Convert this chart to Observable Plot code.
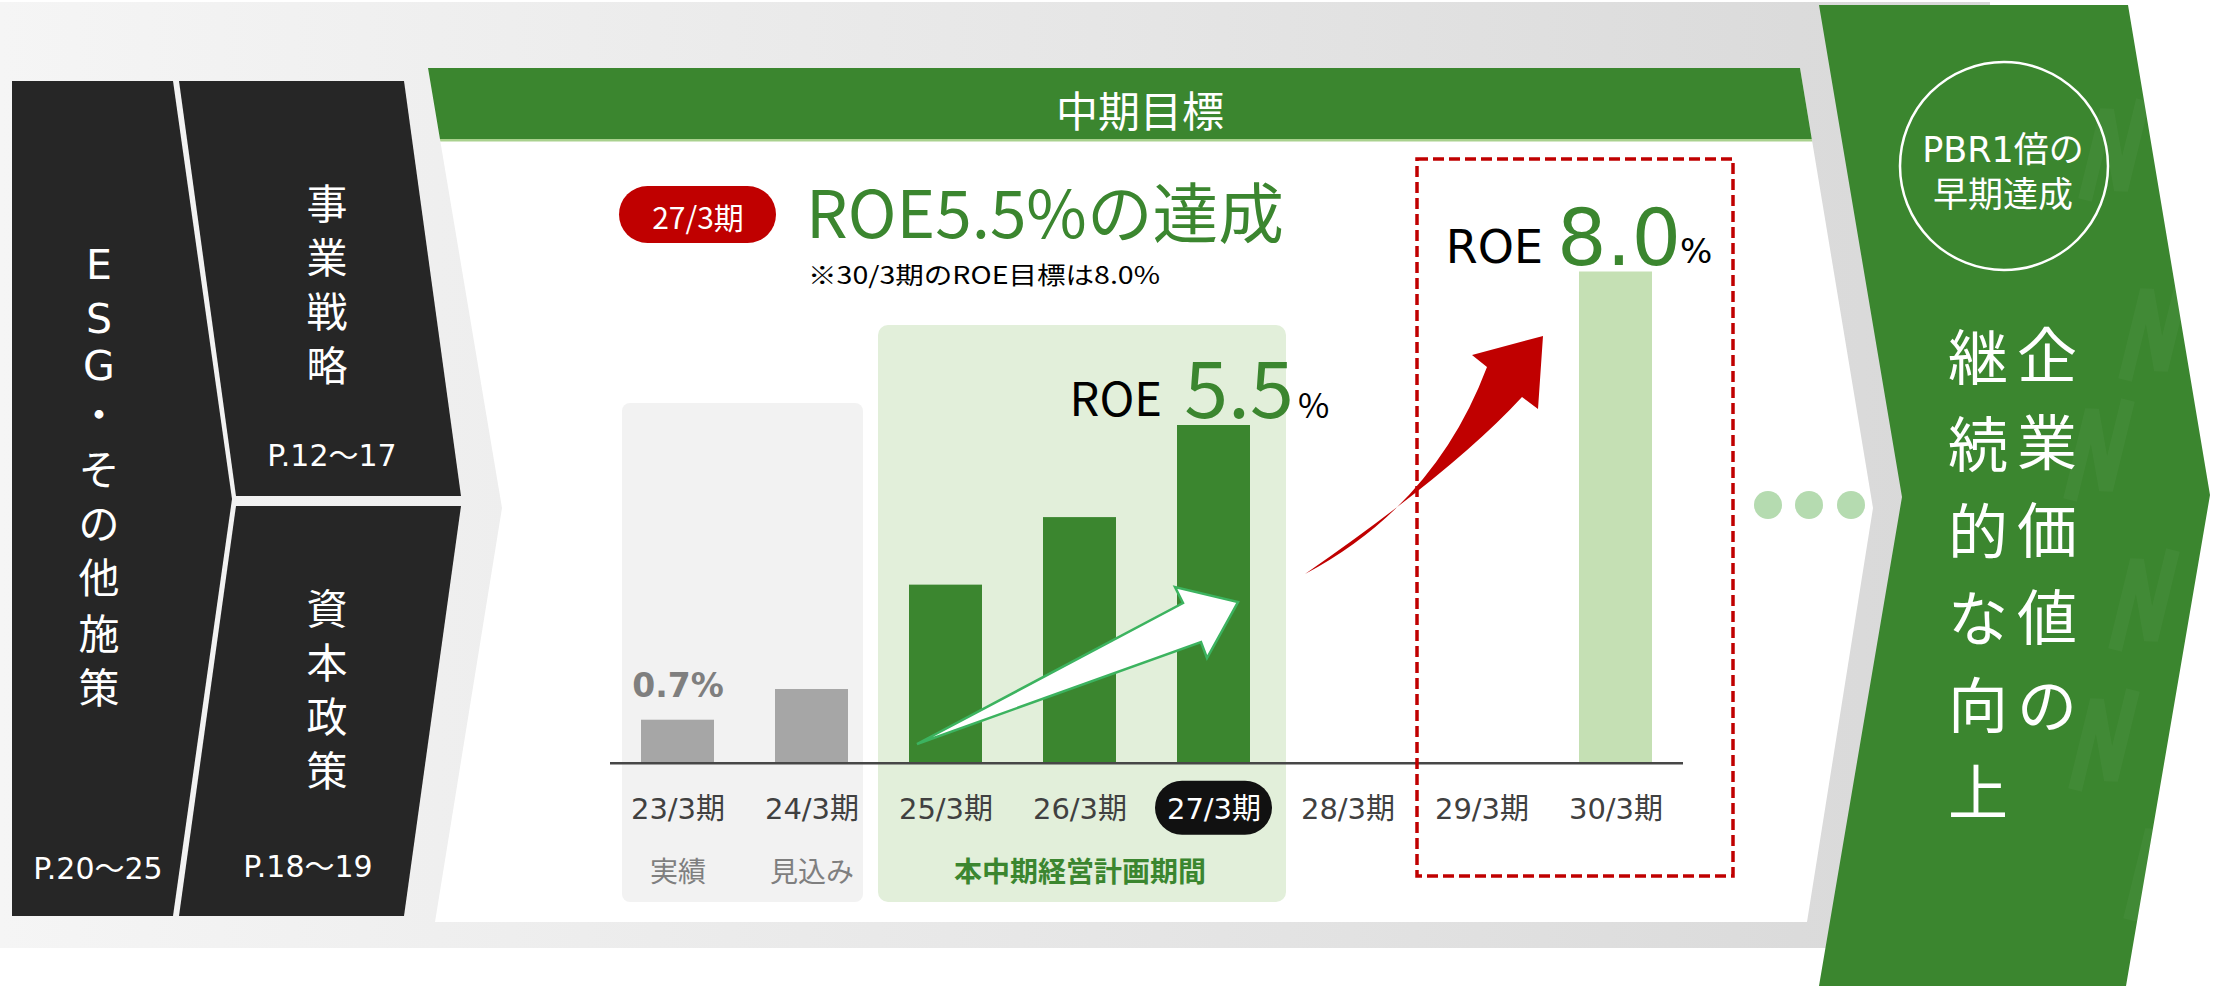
<!DOCTYPE html>
<html><head><meta charset="utf-8">
<script src="https://cdn.jsdelivr.net/npm/d3@7"></script>
<script src="https://cdn.jsdelivr.net/npm/@observablehq/plot@0.6"></script>
<style>
html,body{margin:0;padding:0;background:#fff;}
#stage{position:relative;width:2216px;height:986px;overflow:hidden;}
#stage svg.layer{position:absolute;left:0;top:0;}
#chart{position:absolute;left:560px;top:180px;}
</style></head><body>
<div id="stage"></div>
<script>
// ---------- data ----------
const periods = ["23/3期","24/3期","25/3期","26/3期","27/3期","28/3期","29/3期","30/3期"];
const roe     = [0.7, 1.2, 2.9, 4.0, 5.5, null, null, 8.0];
const phase   = ["実績","見込み","計画","計画","計画",null,null,"目標"];
const targetPeriod = "27/3期";
const valueLabelPeriods = ["23/3期"];
const calloutPeriods = ["27/3期","30/3期"];
const subLabelPeriods = ["23/3期","24/3期","26/3期"];
const subLabelTexts = ["実績","見込み","本中期経営計画期間"];
const headerText = "中期目標";
const titleText = "ROE5.5%の達成";
const noteText = "※30/3期のROE目標は8.0%";
const leftPanelTexts = ["ESG・その他施策","事業戦略","資本政策"];
const pageRefs = ["P.20～25","P.12～17","P.18～19"];
const goalLines = ["PBR1倍の","早期達成"];
const visionCols = ["企業価値の","継続的な向上"];

// ---------- styles ----------
const GREEN = "#3b862f", RED = "#c00000";
const phaseColor = {"実績":"#a6a6a6","見込み":"#a6a6a6","計画":GREEN,"目標":"#c5e0b4"};
const JP = "'Noto Sans CJK JP', sans-serif";
const DV = "'DejaVu Sans', 'Noto Sans CJK JP', sans-serif";

const rows = periods.map((p,i)=>({period:p, roe:roe[i], phase:phase[i]}));

// ---------- background decoration ----------
function vtext(str, x, ys, size, family, fill){
  return [...str].map((ch,i)=>`<text x="${x}" y="${ys[i]}" font-size="${size}" font-family="${family}" fill="${fill}" text-anchor="middle" dominant-baseline="central">${ch}</text>`).join("");
}
function evenYs(start, step, n){ return d3.range(n).map(i=>start+i*step); }

const whitePanel = "428,68 1800,68 1873,508 1807,922 435,922 502,508";
let zig = "";
const zigs = [[2085,110],[2125,290],[2070,410],[2115,560],[2075,700],[2130,830]];
zigs.forEach(([x,y])=>{ zig += `<polyline points="${x},${y+90} ${x+22},${y} ${x+36},${y+80} ${x+58},${y-10}" fill="none" stroke="#ffffff" stroke-opacity="0.035" stroke-width="14"/>`; });

const bg = `
<svg class="layer" width="2216" height="986" xmlns="http://www.w3.org/2000/svg">
<defs>
 <linearGradient id="gband" gradientUnits="userSpaceOnUse" x1="0" y1="0" x2="1990" y2="0">
  <stop offset="0" stop-color="#f5f5f5"/><stop offset="0.55" stop-color="#e6e6e6"/><stop offset="1" stop-color="#d8d8d8"/>
 </linearGradient>
 <clipPath id="cw"><polygon points="${whitePanel}"/></clipPath>
 <clipPath id="cg"><polygon points="1819,5 2128,5 2210,495 2126,986 1819,986 1902,497"/></clipPath>
</defs>
<rect x="0" y="2" width="1990" height="946" fill="url(#gband)"/>
<polygon points="1819,5 2128,5 2210,495 2126,986 1819,986 1902,497" fill="${GREEN}"/>
<g clip-path="url(#cg)">${zig}</g>
<polygon points="12,81 173,81 232,499 173,916 12,916" fill="#262626"/>
<polygon points="179,81 404,81 461,496 236,496" fill="#262626"/>
<polygon points="236,506 461,506 404,916 179,916" fill="#262626"/>
<polygon points="${whitePanel}" fill="#ffffff"/>
<g clip-path="url(#cw)">
 <rect x="400" y="68" width="1500" height="71" fill="${GREEN}"/>
 <rect x="400" y="139" width="1500" height="2.5" fill="#a9d18e"/>
</g>
<text x="1140" y="108" font-size="42" font-family="${JP}" fill="#fff" text-anchor="middle" dominant-baseline="central">${headerText}</text>
<rect x="622" y="403" width="241" height="499" rx="8" fill="#f2f2f2"/>
<rect x="878" y="325" width="408" height="577" rx="10" fill="#e2efda"/>
<rect x="619" y="186" width="157" height="57" rx="28.5" fill="${RED}"/>
<text x="698" y="216" font-size="30" font-family="${JP}" fill="#fff" text-anchor="middle" dominant-baseline="central">${targetPeriod}</text>
<text x="806" y="238" font-size="66" font-family="${JP}" fill="${GREEN}" textLength="478" lengthAdjust="spacingAndGlyphs">${titleText}</text>
<text x="808" y="284" font-size="24" font-family="${JP}" fill="#000" textLength="352" lengthAdjust="spacingAndGlyphs">${noteText}</text>
${vtext(leftPanelTexts[0], 99, [265,319,366,416,471,525,579,635,689], 41, DV, "#fff")}
${vtext(leftPanelTexts[1], 327, evenYs(205,54,4), 41, DV, "#fff")}
${vtext(leftPanelTexts[2], 327, evenYs(610,54,4), 41, DV, "#fff")}
<text x="98" y="868" font-size="30" font-family="${DV}" fill="#fff" text-anchor="middle" dominant-baseline="central">${pageRefs[0]}</text>
<text x="332" y="455" font-size="30" font-family="${DV}" fill="#fff" text-anchor="middle" dominant-baseline="central">${pageRefs[1]}</text>
<text x="308" y="866" font-size="30" font-family="${DV}" fill="#fff" text-anchor="middle" dominant-baseline="central">${pageRefs[2]}</text>
<circle cx="2004" cy="166" r="104" fill="none" stroke="#fff" stroke-width="2.5"/>
<text x="2003" y="150" font-size="35" font-family="${DV}" fill="#fff" text-anchor="middle" dominant-baseline="central">${goalLines[0]}</text>
<text x="2003" y="195" font-size="35" font-family="${DV}" fill="#fff" text-anchor="middle" dominant-baseline="central">${goalLines[1]}</text>
${vtext(visionCols[0], 2047, evenYs(351,87.5,5), 60, JP, "#fff")}
${vtext(visionCols[1], 1978, evenYs(353,87,6), 60, JP, "#fff")}
</svg>`;

const stage = document.getElementById("stage");
stage.insertAdjacentHTML("beforeend", bg);

// ---------- chart ----------
const calloutStyle = {
  "27/3期": {font: JP, roeSize: 47, numSize: 79, pctSize: 34, roeDx: -52, numDx: 25, pctDx: 84, roeDy: -10, numDy: -8, pctDy: -8},
  "30/3期": {font: DV, roeSize: 46, numSize: 78, pctSize: 34, roeDx: -73, numDx: 3, pctDx: 64, roeDy: -9, numDy: -7, pctDy: -9}
};
const calloutMarks = calloutPeriods.flatMap(p => {
  const s = calloutStyle[p];
  const dat = rows.filter(d => d.period === p);
  return [
    Plot.text(dat, {x: "period", y: "roe", text: () => "ROE", textAnchor: "end", lineAnchor: "bottom", dx: s.roeDx, dy: s.roeDy, fontSize: s.roeSize, fontFamily: s.font, fill: "#000"}),
    Plot.text(dat, {x: "period", y: "roe", text: d => d.roe.toFixed(1), textAnchor: "middle", lineAnchor: "bottom", dx: s.numDx, dy: s.numDy, fontSize: s.numSize, fontFamily: s.font, fill: GREEN}),
    Plot.text(dat, {x: "period", y: "roe", text: () => "%", textAnchor: "start", lineAnchor: "bottom", dx: s.pctDx, dy: s.pctDy, fontSize: s.pctSize, fontFamily: s.font, fill: "#000"})
  ];
});

const chart = Plot.plot({
  width: 1180, height: 720,
  marginLeft: 50, marginRight: 57, marginTop: 91.5, marginBottom: 137.3,
  style: {background: "transparent", overflow: "visible"},
  x: {type: "band", domain: periods, paddingInner: 0.456, paddingOuter: 0.228, axis: null},
  y: {domain: [0, 8], axis: null},
  marks: [
    Plot.barY(rows.filter(d => d.roe != null), {x: "period", y: "roe", fill: d => phaseColor[d.phase]}),
    Plot.ruleY([0], {stroke: "#474747", strokeWidth: 2.5}),
    Plot.barY([targetPeriod], {x: d => d, y1: 0, y2: 0, insetTop: -27, insetBottom: -27, insetLeft: -22, insetRight: -22, rx: 27, dy: 45, fill: "#111111"}),
    Plot.text(periods.filter(p => p !== targetPeriod), {x: d => d, frameAnchor: "bottom", lineAnchor: "middle", dy: 46.5, text: d => d, fontSize: 29, fontFamily: DV, fill: "#404040"}),
    Plot.text([targetPeriod], {x: d => d, frameAnchor: "bottom", lineAnchor: "middle", dy: 46.5, text: d => d, fontSize: 29, fontFamily: DV, fill: "#ffffff"}),
    Plot.text(subLabelPeriods.slice(0,2).map((p,i)=>({p, t: subLabelTexts[i]})), {x: "p", frameAnchor: "bottom", lineAnchor: "middle", dy: 110, text: "t", fontSize: 28, fontFamily: JP, fill: "#7f7f7f"}),
    Plot.text([{p: subLabelPeriods[2], t: subLabelTexts[2]}], {x: "p", frameAnchor: "bottom", lineAnchor: "middle", dy: 110, text: "t", fontSize: 28, fontWeight: "bold", fontFamily: JP, fill: GREEN}),
    Plot.text(rows.filter(d => valueLabelPeriods.includes(d.period)), {x: "period", y: "roe", text: d => d.roe.toFixed(1) + "%", lineAnchor: "bottom", dy: -23, fontSize: 33, fontWeight: "bold", fontFamily: DV, fill: "#7f7f7f"}),
    ...calloutMarks
  ]
});
const holder = document.createElement("div");
holder.id = "chart";
holder.appendChild(chart);
stage.appendChild(holder);

// ---------- overlay decoration ----------
const ov = `
<svg class="layer" width="2216" height="986" xmlns="http://www.w3.org/2000/svg">
<rect x="1417" y="159" width="316" height="717" fill="none" stroke="${RED}" stroke-width="3.5" stroke-dasharray="11 5"/>
<polygon points="917,744 1183,603 1175,587 1238,602 1207,658 1201,642" fill="#fff" stroke="#3cb35f" stroke-width="2.5" stroke-linejoin="miter"/>
<path d="M1305,574 Q1435,505 1487,367 L1472,355 L1543,336 L1538,409 L1522,397 Q1455,470 1305,574 Z" fill="${RED}"/>
<circle cx="1768" cy="505" r="14" fill="#b5dbb0"/>
<circle cx="1809" cy="505" r="14" fill="#b5dbb0"/>
<circle cx="1851" cy="505" r="14" fill="#b5dbb0"/>
</svg>`;
stage.insertAdjacentHTML("beforeend", ov);
</script>
</body></html>
